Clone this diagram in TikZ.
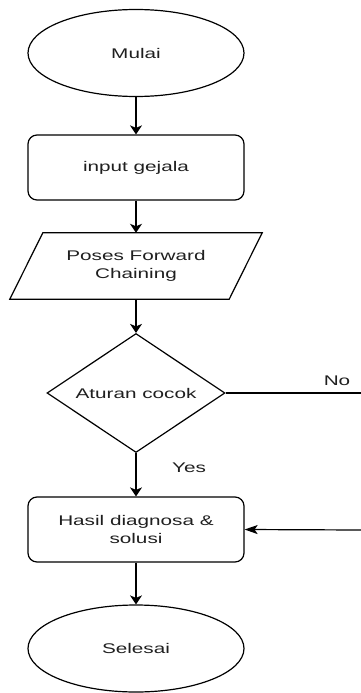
\documentclass[tikz,border=0pt]{standalone}
\usepackage{fontspec}
\setmainfont{Liberation Sans}[FakeStretch=1.48]
\usetikzlibrary{shapes.geometric,arrows.meta}
\begin{document}
\begin{tikzpicture}[x=1pt,y=-1pt,
  every node/.style={font=\fontsize{14}{17.5}\selectfont, text=black!88},
  terminal/.style={ellipse, draw, line width=1.2pt, minimum width=216pt, minimum height=87pt, inner sep=0pt},
  procbox/.style={rectangle, draw, rounded corners=9pt, line width=1.2pt, minimum width=216pt, minimum height=65pt, inner sep=0pt, align=center},
  iobox/.style={rectangle, minimum width=252pt, minimum height=66pt, inner sep=0pt, align=center},
  decision/.style={diamond, draw, line width=1.2pt, shape aspect=1.5, minimum width=178pt, minimum height=119pt, inner sep=0pt},
  flow/.style={line width=1.2pt, -{Stealth[length=9pt,width=12pt,inset=2.5pt]}},
  flowh/.style={line width=1.2pt, -{Stealth[length=13pt,width=9pt,inset=3pt]}},
  plain/.style={line width=1.2pt}
]
\useasboundingbox (0,0) rectangle (361,693);
\node[terminal] (start) at (136,53) {Mulai};
\node[procbox] (input) at (136,167.5) {input gejala};
\node[iobox] (proc) at (136,266) {Poses Forward\\Chaining};
\draw[line width=1.2pt] ([xshift=33pt]proc.north west) -- (proc.north east) -- ([xshift=-33pt]proc.south east) -- (proc.south west) -- cycle;
\node[decision] (dec) at (136,393) {Aturan cocok};
\node[procbox] (result) at (136,529.5) {Hasil diagnosa \&\\solusi};
\node[terminal] (end) at (136,648.5) {Selesai};
\coordinate (noend) at (361,393);
\coordinate (back) at (361,530);
\draw[flow] (start) -- (input);
\draw[flow] (input) -- (proc);
\draw[flow] (proc) -- (dec);
\draw[flow] (dec) -- (result);
\draw[flow] (result) -- (end);
\draw[plain] (dec.east) -- (noend);
\draw[flowh] (back) -- (result.east);
\node (yes) at (189,468) {Yes};
\node (no) at (337,381) {No};
\end{tikzpicture}
\end{document}
